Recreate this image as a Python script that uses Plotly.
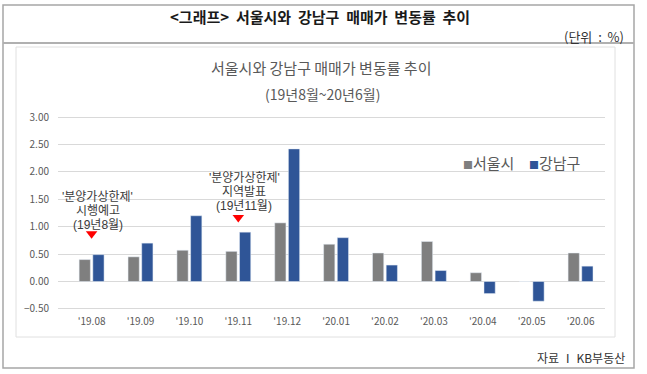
import plotly.graph_objects as go

months = ["'19.08", "'19.09", "'19.10", "'19.11", "'19.12", "'20.01",
          "'20.02", "'20.03", "'20.04", "'20.05", "'20.06"]
seoul = [0.40, 0.45, 0.57, 0.55, 1.07, 0.68, 0.52, 0.73, 0.16, 0.00, 0.52]
gangnam = [0.49, 0.70, 1.20, 0.90, 2.42, 0.80, 0.30, 0.20, -0.22, -0.36, 0.28]
y_ticks = [-0.5, 0.0, 0.5, 1.0, 1.5, 2.0, 2.5, 3.0]
series_names = ["서울시", "강남구"]
series_colors = ["#7f7f7f", "#2f5597"]

event_months = ["'19.08", "'19.11"]
event_marker_y = [0.87, 1.17]
event_text_y = [0.92, 1.26]
event_lines = [["'분양가상한제'", "시행예고", "(19년8월)"],
               ["'분양가상한제'", "지역발표", "(19년11월)"]]

W, H = 647, 374
L, R, T, B = 58, 42, 116, 64
PW, PH = W - L - R, H - T - B


def px(x):
    return (x - L) / PW


def py(y):
    return (H - B - y) / PH


FONT = "Noto Sans CJK KR"
NOTE_FONT = "Liberation Sans, Noto Sans CJK KR"
SP = " \u00a0"

fig = go.Figure()
for name, vals, col in zip(series_names, [seoul, gangnam], series_colors):
    fig.add_trace(go.Bar(x=months, y=vals, name=name, marker_color=col))
fig.add_trace(go.Scatter(x=event_months, y=event_marker_y, mode="markers",
                         marker=dict(symbol="triangle-down", size=10, color="#ff0000"),
                         showlegend=False, hoverinfo="skip"))

for m, ty, lines in zip(event_months, event_text_y, event_lines):
    n = len(lines)
    for i, ln in enumerate(lines):
        fig.add_annotation(x=m, y=ty, xref="x", yref="y", text=ln, showarrow=False,
                           yanchor="bottom", xshift=6, yshift=(n - 1 - i) * 14 - 2,
                           borderpad=0,
                           font=dict(family=NOTE_FONT, size=12, color="#3a3a3a"))

shapes = [
    dict(type="rect", xref="paper", yref="paper", x0=px(3), x1=px(634), y0=py(368), y1=py(5),
         line=dict(color="#a6a6a6", width=1.5), layer="below"),
    dict(type="line", xref="paper", yref="paper", x0=px(3), x1=px(634), y0=py(43), y1=py(43),
         line=dict(color="#b0b0b0", width=2)),
    dict(type="rect", xref="paper", yref="paper", x0=px(16), x1=px(615), y0=py(337), y1=py(47),
         line=dict(color="#e0e0e0", width=1), layer="below"),
]

annos = [
    dict(x=px(320), y=py(16),
         text="<b>" + SP.join(["<그래프>", "서울시와", "강남구", "매매가", "변동률", "추이"]) + "</b>",
         font=dict(family=FONT, size=15, color="#1a1a1a")),
    dict(x=px(626), y=py(37), text="(단위" + SP + ":" + SP + "%)", xanchor="right",
         font=dict(family=FONT, size=13, color="#333333")),
    dict(x=px(321), y=py(67), text="서울시와 강남구 매매가 변동률 추이",
         font=dict(family=FONT, size=15, color="#595959")),
    dict(x=px(322), y=py(94), text="(19년8월~20년6월)",
         font=dict(family=FONT, size=14, color="#595959")),
    dict(x=px(627), y=py(357), text="자료 Ⅰ KB부동산", xanchor="right",
         font=dict(family=FONT, size=12, color="#333333")),
]
# legend drawn as compact text entries (small squares like the reference)
leg_x = [461, 527]
for lx, name, col in zip(leg_x, series_names, series_colors):
    annos.append(dict(x=px(lx), y=py(162), xanchor="left",
                      text=f"<span style='color:{col};font-size:10px'>■</span>{name}",
                      font=dict(family=FONT, size=15, color="#595959")))
for a in annos:
    a.setdefault("xanchor", "center")
    fig.add_annotation(xref="paper", yref="paper", showarrow=False, yanchor="middle", **a)

fig.update_layout(
    width=W, height=H,
    margin=dict(l=L, r=R, t=T, b=B, autoexpand=False),
    paper_bgcolor="white", plot_bgcolor="white",
    barmode="group", bargap=0.44, bargroupgap=0.18,
    font=dict(family=FONT, color="#595959"),
    shapes=shapes,
    showlegend=False,
    xaxis=dict(showgrid=False, showline=False, ticks="", automargin=False,
               ticklabelstandoff=4,
               tickfont=dict(family=FONT, size=10, color="#595959")),
    yaxis=dict(range=[-0.52, 3.02], tickvals=y_ticks, tickformat=".2f",
               showgrid=True, gridcolor="#d9d9d9", gridwidth=1,
               zeroline=True, zerolinecolor="#d9d9d9", zerolinewidth=1,
               showline=False, ticks="", automargin=False, ticklabelstandoff=8,
               tickfont=dict(family=FONT, size=10, color="#595959")),
)

fig.write_html("out.html", config={"displayModeBar": False},
               post_script="document.body.style.margin='0';")
